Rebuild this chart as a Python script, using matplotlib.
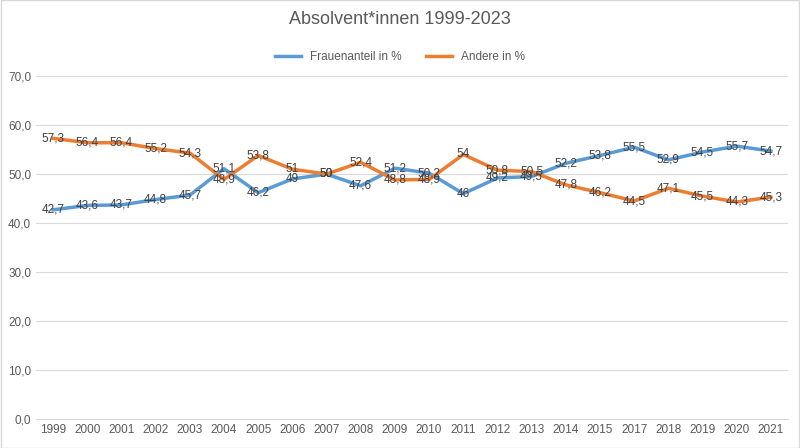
import matplotlib.pyplot as plt

years = ["1999", "2000", "2001", "2002", "2003", "2004", "2005", "2006", "2007", "2008",
         "2009", "2010", "2011", "2012", "2013", "2014", "2015", "2017", "2018", "2019",
         "2020", "2021"]
frauen = [42.7, 43.6, 43.7, 44.8, 45.7, 51.1, 46.2, 49, 50, 47.6, 51.2, 50.2, 46, 49.2,
          49.5, 52.2, 53.8, 55.5, 52.9, 54.5, 55.7, 54.7]
andere = [57.3, 56.4, 56.4, 55.2, 54.3, 48.9, 53.8, 51, 50, 52.4, 48.8, 48.9, 54, 50.8,
          50.5, 47.8, 46.2, 44.5, 47.1, 45.5, 44.3, 45.3]

plt.rcParams["font.family"] = ["Liberation Sans", "DejaVu Sans"]
fig = plt.figure(figsize=(8, 4.48), dpi=100)
ax = fig.add_axes([0.045, 0.065, 0.94, 0.765])

x = list(range(len(years)))
ax.plot(x, frauen, color="#5B9BD5", lw=2.5, label="Frauenanteil in %")
ax.plot(x, andere, color="#ED7D31", lw=2.5, label="Andere in %")

def fmt(v):
    return str(int(v)) if v == int(v) else f"{v}".replace(".", ",")

for xi, v in zip(x, frauen):
    ax.text(xi, v, fmt(v), ha="center", va="center", fontsize=8.5, color="#404040")
for xi, v in zip(x, andere):
    ax.text(xi, v, fmt(v), ha="center", va="center", fontsize=8.5, color="#404040")

ax.set_ylim(0, 70)
ax.set_yticks(range(0, 71, 10))
ax.set_yticklabels([f"{t},0" for t in range(0, 71, 10)])
ax.set_xlim(-0.5, len(years) - 0.5)
ax.set_xticks(x)
ax.set_xticklabels(years)
ax.tick_params(length=0, labelsize=8.5, labelcolor="#595959")
ax.grid(axis="y", color="#D9D9D9", lw=0.8)
ax.set_axisbelow(True)
for s in ["top", "right", "left"]:
    ax.spines[s].set_visible(False)
ax.spines["bottom"].set_color("#D9D9D9")

fig.suptitle("Absolvent*innen 1999-2023", y=0.975, fontsize=13, color="#595959")
fig.legend(loc="upper center", bbox_to_anchor=(0.5, 0.91), ncol=2, frameon=False,
           fontsize=8.5, labelcolor="#595959", handlelength=2.2)
fig.patches.append(plt.Rectangle((0.001, 0.001), 0.998, 0.998, transform=fig.transFigure,
                                 fill=False, edgecolor="#D9D9D9", lw=1))
fig.savefig("out.png")
